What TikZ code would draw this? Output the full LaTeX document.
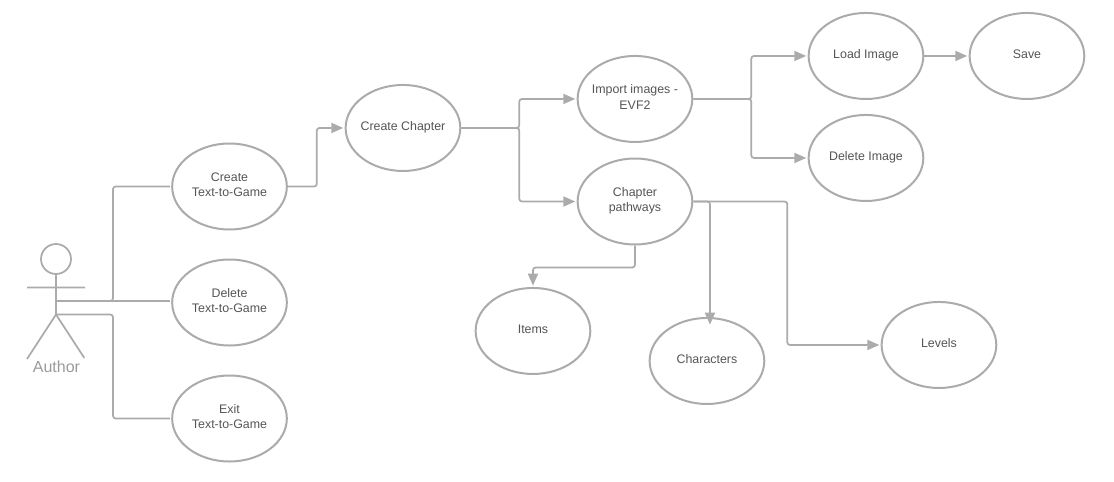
\documentclass[tikz,border=0pt]{standalone}
\usepackage{fontspec}
\setmainfont{Liberation Sans}
\usetikzlibrary{arrows.meta}
\usetikzlibrary{positioning}
\usetikzlibrary{shapes.geometric}
\definecolor{linegray}{HTML}{ABABAB}
\definecolor{textgray}{HTML}{555555}
\tikzset{
  usecase/.style={ellipse,draw=linegray,line width=1.5pt,fill=white,minimum width=86pt,minimum height=64.5pt,
    inner xsep=-6pt,inner ysep=0pt,text depth=2.8pt,align=center,font=\fontsize{9.3}{11.5}\selectfont,text=textgray},
  link/.style={draw=linegray,line width=1.3pt,rounded corners=2pt},
  stick/.style={draw=linegray,line width=1.3pt}
}
\begin{document}
\begin{tikzpicture}[x=0.75pt,y=-0.75pt,shorten >=1pt,on grid,>={Triangle[length=9pt,width=7.5pt]}]
  \useasboundingbox (0,0) rectangle (1114,482);
  \node[usecase] (create_game) at (229.5,186.5) {Create\\Text-to-Game};
  \node[usecase] (delete_game) [below=87pt of create_game] {Delete\\Text-to-Game};
  \node[usecase] (exit_game) [below=87pt of delete_game] {Exit\\Text-to-Game};
  \node[usecase] (create_chapter) [above right=43.9pt and 130.1pt of create_game] {Create Chapter};
  \node[usecase] (import) [above right=21.75pt and 174pt of create_chapter] {Import images -\\EVF2};
  \node[usecase] (pathways) [below=76.9pt of import] {Chapter\\pathways};
  \node[usecase] (load) [above right=32.25pt and 173.25pt of import] {Load Image};
  \node[usecase] (save) [right=120.75pt of load] {Save};
  \node[usecase] (delete_image) [below=76.5pt of load] {Delete Image};
  \node[usecase] (items) [below left=97.1pt and 76.5pt of pathways] {Items};
  \node[usecase] (characters) [below right=119.6pt and 54pt of pathways] {Characters};
  \node[usecase] (levels) [below right=107.6pt and 228pt of pathways] {Levels};
  % stick figure
  \node[circle,stick,minimum size=22.5pt,inner sep=0pt] (head) at (56,259) {};
  \coordinate (arm_l) at (27,287.5);
  \coordinate (arm_r) at (85,287.5);
  \coordinate (waist) at (56,301);
  \coordinate (hip) at (56,314.5);
  \coordinate (foot_l) at (27,359);
  \coordinate (foot_r) at (85,359);
  \node[text=linegray!90!black,font=\fontsize{12}{14}\selectfont] (author) at (56.5,367) {Author};
  \draw[stick] (head.south) -- (hip) (arm_l) -- (arm_r) (foot_l) -- (hip) -- (foot_r);
  % connectors
  \draw[link] (waist) -- ++(57,0) |- (create_game.west);
  \draw[link] (waist) -- (waist -| delete_game.west);
  \draw[link] (hip) -- ++(57,0) |- (exit_game.west);
  \draw[link,->] (create_game.east) -- ++(29,0) |- (create_chapter.west);
  \draw[link,->] (create_chapter.east) -- ++(58,0) |- (import.west);
  \draw[link,->] (create_chapter.east) -- ++(58,0) |- (pathways.west);
  \draw[link,->] (import.east) -- ++(58,0) |- (load.west);
  \draw[link,->] (import.east) -- ++(58,0) |- (delete_image.west);
  \draw[link,->] (load.east) -- (save.west);
  \draw[link,->] (pathways.south) -- ++(0,22) -| (items.north);
  \draw[link,->] (pathways.east) -| ([shift={(3,9)}]characters.north);
  \draw[link,->] (pathways.east) -- ++(94,0) |- (levels.west);
\end{tikzpicture}
\end{document}
